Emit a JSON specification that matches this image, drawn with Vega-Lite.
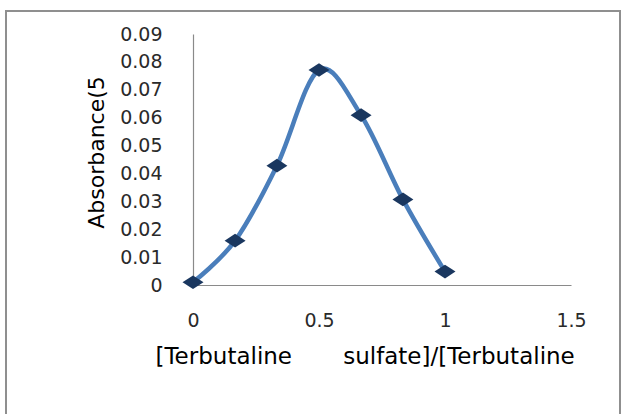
{
  "$schema": "https://vega.github.io/schema/vega-lite/v6.json",
  "width": 614,
  "height": 406,
  "autosize": {"type": "none"},
  "padding": {"left": 6, "top": 11, "right": 2, "bottom": 0},
  "background": "white",
  "config": {"view": {"stroke": "#8f8f8f", "strokeWidth": 2}},
  "data": {
    "values": [
      {"ratio": 0, "absorbance": 0.001},
      {"ratio": 0.167, "absorbance": 0.0159},
      {"ratio": 0.333, "absorbance": 0.0428},
      {"ratio": 0.5, "absorbance": 0.0771},
      {"ratio": 0.667, "absorbance": 0.0609},
      {"ratio": 0.833, "absorbance": 0.0307},
      {"ratio": 1, "absorbance": 0.0048}
    ]
  },
  "encoding": {
    "x": {
      "field": "ratio",
      "type": "quantitative",
      "scale": {"domain": [0, 1.5], "range": [187, 565], "nice": false, "zero": false},
      "axis": {
        "values": [0, 0.5, 1, 1.5],
        "format": "~g",
        "offset": -132,
        "ticks": false,
        "tickSize": 0,
        "grid": false,
        "domainColor": "#8a8a8a",
        "domainWidth": 1.2,
        "labelFont": "DejaVu Sans",
        "labelFontSize": 19,
        "labelColor": "#2a2a2a",
        "labelPadding": 26,
        "labelFlush": false,
        "labelOverlap": false,
        "title": "[Terbutaline\u00a0\u00a0\u00a0\u00a0\u00a0\u00a0\u00a0sulfate]/[Terbutaline",
        "titleFont": "DejaVu Sans",
        "titleFontSize": 23,
        "titleFontWeight": "normal",
        "titleColor": "#000000",
        "titleAlign": "left",
        "titleAnchor": "start",
        "titleX": 149,
        "titleY": 78,
        "titleBaseline": "alphabetic"
      }
    },
    "y": {
      "field": "absorbance",
      "type": "quantitative",
      "scale": {"domain": [0, 0.09], "range": [274, 23], "nice": false, "zero": false},
      "axis": {
        "values": [0, 0.01, 0.02, 0.03, 0.04, 0.05, 0.06, 0.07, 0.08, 0.09],
        "format": "~g",
        "offset": -187,
        "ticks": false,
        "tickSize": 0,
        "grid": false,
        "domainColor": "#8a8a8a",
        "domainWidth": 1.2,
        "labelFont": "DejaVu Sans",
        "labelFontSize": 19,
        "labelColor": "#2a2a2a",
        "labelPadding": 31,
        "labelFlush": false,
        "labelOverlap": false,
        "title": "Absorbance(5",
        "titleFont": "DejaVu Sans",
        "titleFontSize": 22,
        "titleFontWeight": "normal",
        "titleColor": "#000000",
        "titleAngle": 270,
        "titleAlign": "center",
        "titleX": -90,
        "titleY": 141,
        "titleBaseline": "alphabetic"
      }
    }
  },
  "layer": [
    {"mark": {"type": "line", "interpolate": "cardinal", "color": "#4a7ebb", "strokeWidth": 4.5}},
    {"mark": {"type": "point", "shape": "M-1,0L0,-0.65L1,0L0,0.65Z", "size": 440, "filled": true, "color": "#1a375f", "opacity": 1}}
  ]
}
